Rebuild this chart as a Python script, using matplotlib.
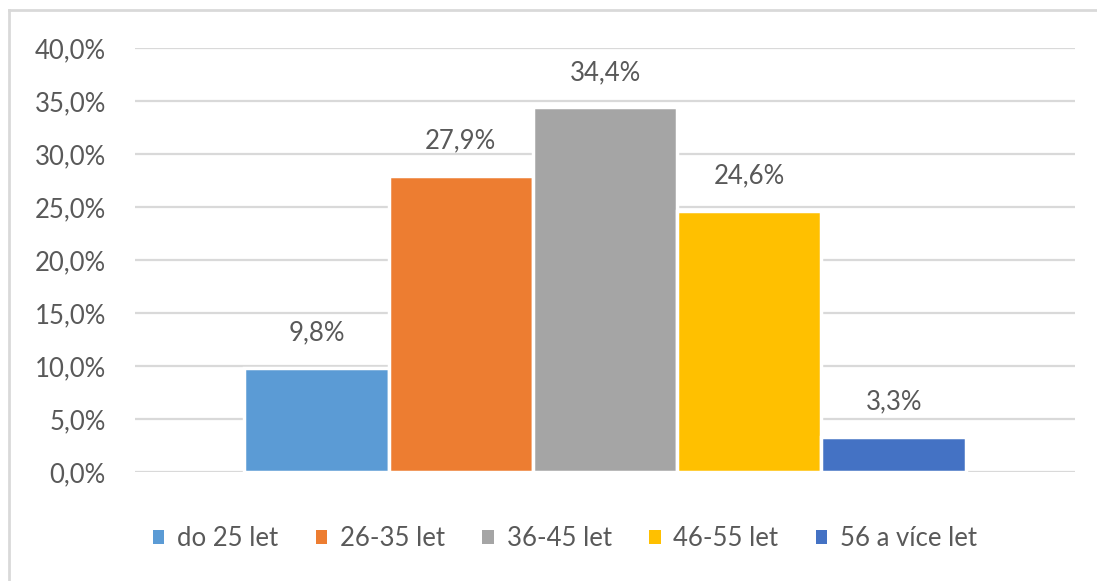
import matplotlib
matplotlib.use('Agg')
import matplotlib.pyplot as plt
from matplotlib.lines import Line2D
from matplotlib.patches import Patch
from matplotlib.ticker import FuncFormatter

kategorie = ['do 25 let', '26-35 let', '36-45 let', '46-55 let', '56 a více let']
hodnoty = [9.8, 27.9, 34.4, 24.6, 3.3]
barvy = ['#5B9BD5', '#ED7D31', '#A5A5A5', '#FFC000', '#4472C4']
y_ticky = [0, 5, 10, 15, 20, 25, 30, 35, 40]

plt.rcParams['font.family'] = ['Lato', 'DejaVu Sans']
text_barva = '#595959'
velikost = 18.5

fig = plt.figure(figsize=(10.97, 5.81), dpi=100)
ax = fig.add_axes([0.1231, 0.1876, 0.8569, 0.7298])

sirka = 0.1535
n = len(hodnoty)
for i, (k, v, c) in enumerate(zip(kategorie, hodnoty, barvy)):
    x = (i - (n - 1) / 2) * sirka
    ax.bar(x, v, width=sirka, color=c, edgecolor='white', linewidth=2.5, zorder=3)
    ax.text(x, v + 3.3, f'{v:.1f}%'.replace('.', ','), ha='center', va='center',
            fontsize=velikost, color=text_barva)

ax.set_xlim(-0.5, 0.5)
ax.set_ylim(0, 40)
ax.set_yticks(y_ticky)
ax.yaxis.set_major_formatter(FuncFormatter(lambda v, p: f'{v:.1f}%'.replace('.', ',')))
ax.tick_params(axis='y', length=0, pad=21, labelsize=velikost, labelcolor=text_barva)
ax.set_xticks([])
ax.grid(axis='y', color='#D9D9D9', linewidth=1.6, zorder=0)
for s in ax.spines.values():
    s.set_visible(False)

handles = [Patch(facecolor=c, edgecolor='none') for c in barvy]
fig.legend(handles, kategorie, loc='center', bbox_to_anchor=(0.515, 0.073), ncol=5,
           frameon=False, fontsize=velikost, labelcolor=text_barva, handlelength=0.45,
           handleheight=0.45, handletextpad=0.5, columnspacing=1.45)

# okraj grafu (horní a levý)
fig.add_artist(Line2D([9 / 1097, 1], [1 - 10 / 581, 1 - 10 / 581], transform=fig.transFigure,
                      color='#D9D9D9', linewidth=2))
fig.add_artist(Line2D([9 / 1097, 9 / 1097], [0, 1 - 10 / 581], transform=fig.transFigure,
                      color='#D9D9D9', linewidth=2))

fig.savefig('out.png', dpi=100)
